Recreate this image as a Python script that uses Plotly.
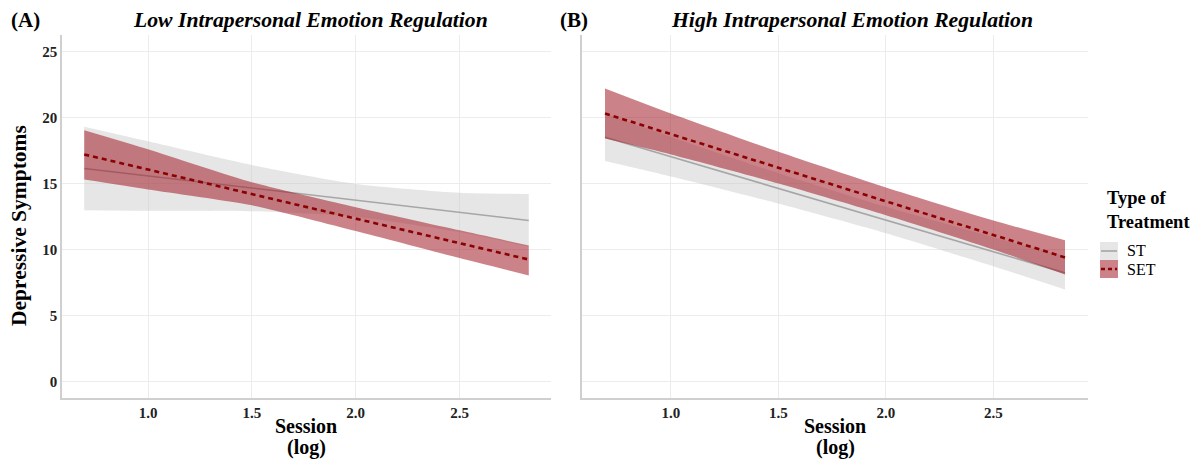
import plotly.graph_objects as go

# x positions (log session)
x_pts = [0.693, 1.0, 1.5, 2.0, 2.5, 2.833]

# Panel A: Low intrapersonal emotion regulation
low_st_fit = [16.14, 15.57, 14.65, 13.73, 12.81, 12.2]
low_st_upper = [19.3, 18.2, 16.4, 14.97, 14.3, 14.2]
low_st_lower = [12.98, 12.94, 12.9, 12.49, 11.32, 10.2]
low_set_fit = [17.2, 16.06, 14.2, 12.34, 10.48, 9.24]
low_set_upper = [19.04, 17.6, 15.1, 13.2, 11.45, 10.3]
low_set_lower = [15.3, 14.55, 13.35, 11.4, 9.35, 8.03]

# Panel B: High intrapersonal emotion regulation
high_st_fit = [18.5, 17.03, 14.63, 12.23, 9.83, 8.23]
high_st_upper = [20.3, 18.53, 15.78, 13.23, 10.93, 9.49]
high_st_lower = [16.7, 15.53, 13.48, 11.23, 8.73, 6.97]
high_set_fit = [20.3, 18.75, 16.2, 13.65, 11.1, 9.4]
high_set_upper = [22.2, 20.3, 17.4, 14.7, 12.2, 10.7]
high_set_lower = [18.4, 17.2, 15.0, 12.6, 10.0, 8.1]

x_ticks = [1.0, 1.5, 2.0, 2.5]
y_ticks = [0, 5, 10, 15, 20, 25]
groups = ["ST", "SET"]
panel_titles = ["Low Intrapersonal Emotion Regulation", "High Intrapersonal Emotion Regulation"]
panel_tags = ["(A)", "(B)"]

ST_FILL = "rgba(200,200,200,0.45)"
ST_LINE = "#a6a6a6"
SET_FILL = "rgba(160,30,40,0.55)"
SET_LINE = "#8b0000"
SET_DASH = "5px,4px"
FONT = "Liberation Serif"

# page offset (browser body margin) compensation
OFF = 8
W = 1199 - OFF
H = 461 - OFF


def px(v):
    return (v - OFF) / W


def py(v):
    return 1 - (v - OFF) / H


fig = go.Figure()


def add_group(xa, ya, fit, upper, lower, fill, line, dash, width):
    fig.add_trace(go.Scatter(x=x_pts, y=upper, mode="lines", line=dict(width=0, shape="spline", smoothing=0.6),
                             xaxis=xa, yaxis=ya, showlegend=False, hoverinfo="skip"))
    fig.add_trace(go.Scatter(x=x_pts, y=lower, mode="lines", line=dict(width=0, shape="spline", smoothing=0.6),
                             fill="tonexty", fillcolor=fill,
                             xaxis=xa, yaxis=ya, showlegend=False, hoverinfo="skip"))
    fig.add_trace(go.Scatter(x=x_pts, y=fit, mode="lines",
                             line=dict(color=line, width=width, dash=dash),
                             xaxis=xa, yaxis=ya, showlegend=False))


add_group("x", "y", low_st_fit, low_st_upper, low_st_lower, ST_FILL, ST_LINE, "solid", 1.6)
add_group("x", "y", low_set_fit, low_set_upper, low_set_lower, SET_FILL, SET_LINE, SET_DASH, 2.6)
add_group("x2", "y2", high_st_fit, high_st_upper, high_st_lower, ST_FILL, ST_LINE, "solid", 1.6)
add_group("x2", "y2", high_set_fit, high_set_upper, high_set_lower, SET_FILL, SET_LINE, SET_DASH, 2.6)

y_dom = [py(398), py(35)]
tick_font = dict(family=FONT, size=15, color="#222", weight="bold")
xa_common = dict(range=[0.586, 2.94], tickvals=x_ticks, tickformat=".1f",
                 showgrid=True, gridcolor="#ececec", gridwidth=1,
                 showline=True, linecolor="#cfcfcf", linewidth=1.5,
                 zeroline=False, ticks="", ticklen=0, automargin=False,
                 tickfont=tick_font)
ya_common = dict(range=[-1.25, 26.25], tickvals=y_ticks,
                 showgrid=True, gridcolor="#ececec", gridwidth=1,
                 showline=True, linecolor="#cfcfcf", linewidth=1.5,
                 zeroline=False, ticks="", ticklen=0, automargin=False,
                 tickfont=tick_font)

fig.update_layout(
    width=W, height=H,
    margin=dict(l=0, r=0, t=0, b=0, pad=0),
    paper_bgcolor="white", plot_bgcolor="white",
    showlegend=False,
    xaxis=dict(domain=[px(62), px(551)], anchor="y", **xa_common),
    yaxis=dict(domain=y_dom, anchor="x", showticklabels=True, **ya_common),
    xaxis2=dict(domain=[px(582), px(1088)], anchor="y2", **xa_common),
    yaxis2=dict(domain=y_dom, anchor="x2", showticklabels=False, **ya_common),
)

ann = []
for tag, tx in zip(panel_tags, [25, 574]):
    ann.append(dict(x=px(tx), y=py(20), xref="paper", yref="paper", text="<b>" + tag + "</b>",
                    xanchor="center", yanchor="middle",
                    showarrow=False, font=dict(family=FONT, size=21, color="black")))
for title, tx in zip(panel_titles, [310, 852]):
    ann.append(dict(x=px(tx), y=py(20), xref="paper", yref="paper",
                    text="<b><i>" + title + "</i></b>", xanchor="center", yanchor="middle",
                    showarrow=False, font=dict(family=FONT, size=21.7, color="black")))
for cx in [306, 835]:
    ann.append(dict(x=px(cx), y=py(426), xref="paper", yref="paper",
                    text="<b>Session</b>", showarrow=False,
                    xanchor="center", yanchor="middle",
                    font=dict(family=FONT, size=20, color="black")))
    ann.append(dict(x=px(cx), y=py(447), xref="paper", yref="paper",
                    text="<b>(log)</b>", showarrow=False,
                    xanchor="center", yanchor="middle",
                    font=dict(family=FONT, size=20, color="black")))
ann.append(dict(x=px(19), y=py(226), xref="paper", yref="paper",
                text="<b>Depressive Symptoms</b>", textangle=-90, showarrow=False,
                xanchor="center", yanchor="middle",
                font=dict(family=FONT, size=21.5, color="black")))
ann.append(dict(x=px(1105), y=py(210), xref="paper", yref="paper", xanchor="left", yanchor="middle",
                text="<b>Type of<br>Treatment</b>", align="left", showarrow=False,
                font=dict(family=FONT, size=18.5, color="black")))
for label, ly in zip(groups, [251, 269]):
    ann.append(dict(x=px(1125), y=py(ly), xref="paper", yref="paper", xanchor="left", yanchor="middle",
                    text=label, showarrow=False,
                    font=dict(family=FONT, size=16, color="black")))
fig.update_layout(annotations=ann)

shapes = []
for (fill, line, dash, lw), ly in zip([(ST_FILL, ST_LINE, "solid", 1.6), (SET_FILL, SET_LINE, "4px,3px", 2.6)], [251, 269]):
    shapes.append(dict(type="rect", xref="paper", yref="paper",
                       x0=px(1100), x1=px(1118), y0=py(ly - 9), y1=py(ly + 9),
                       fillcolor=fill, line=dict(width=0)))
    shapes.append(dict(type="line", xref="paper", yref="paper",
                       x0=px(1101), x1=px(1117), y0=py(ly), y1=py(ly),
                       line=dict(color=line, width=lw, dash=dash)))
fig.update_layout(shapes=shapes)

fig.write_html("out.html")
